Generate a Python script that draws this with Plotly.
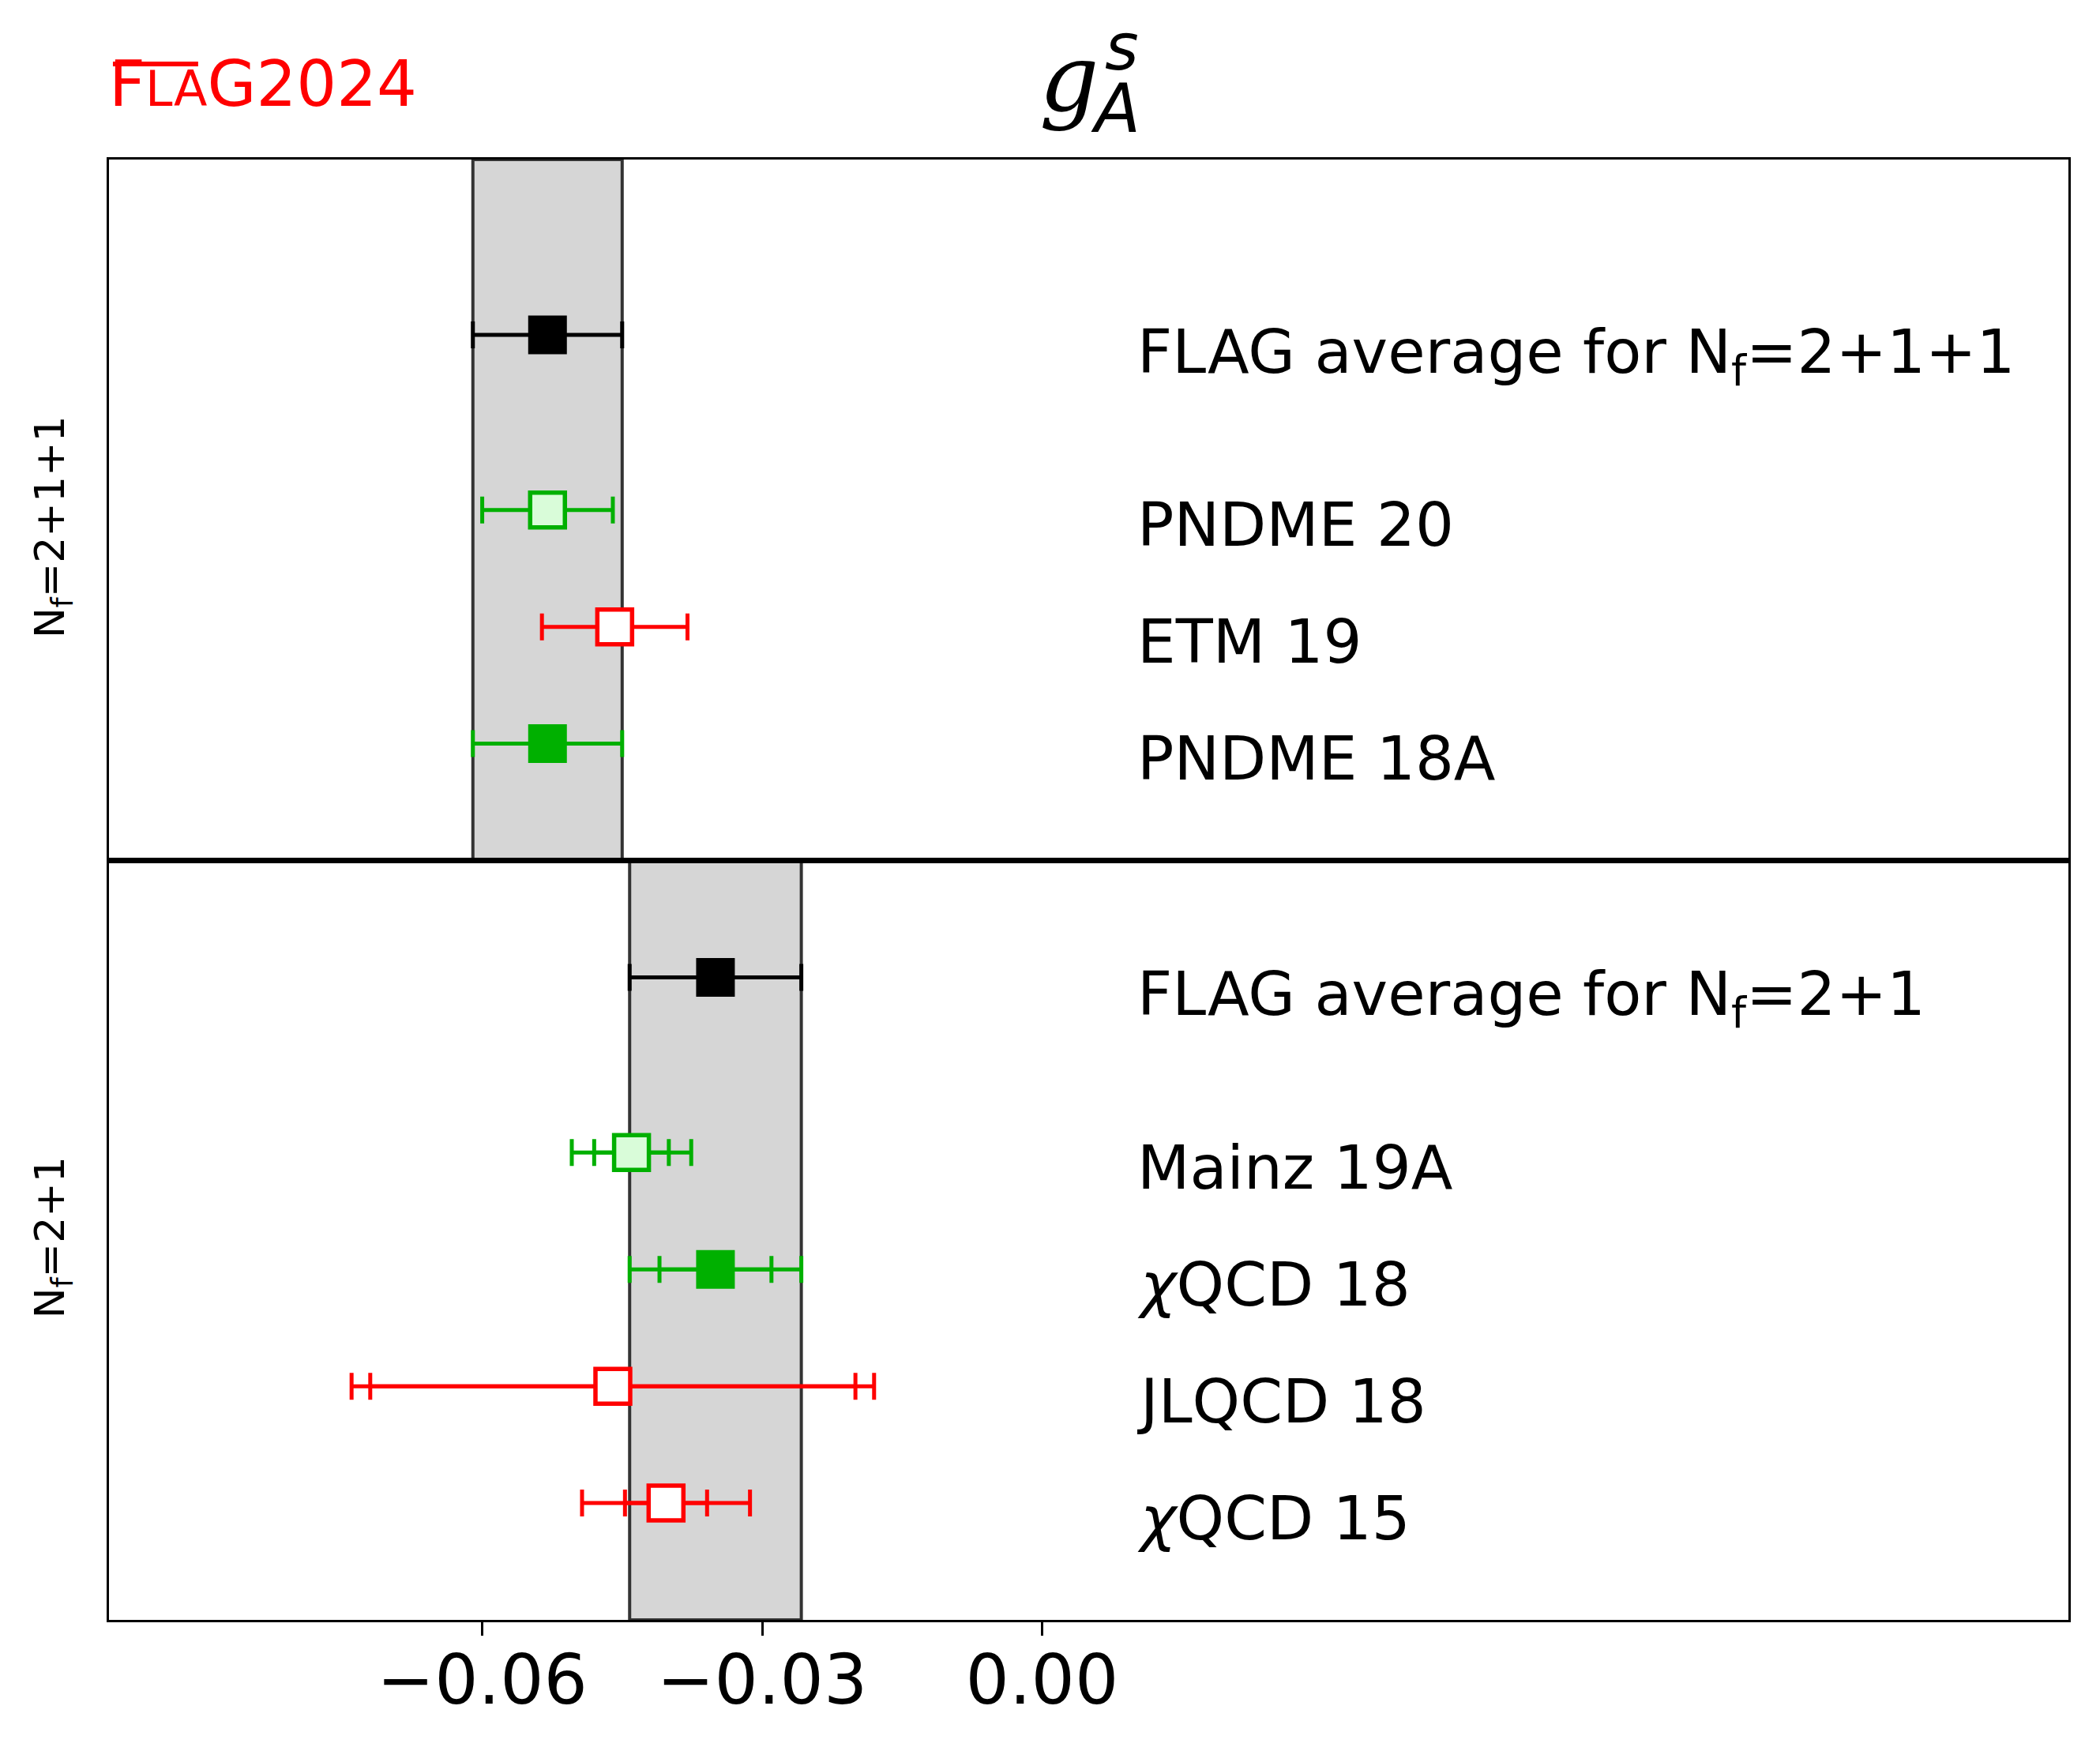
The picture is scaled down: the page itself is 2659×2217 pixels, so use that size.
import plotly.graph_objects as go
from plotly.subplots import make_subplots

# ---------------- data ----------------
x_range = [-0.1, 0.11]
x_ticks = [-0.06, -0.03, 0.0]

top_labels = ["FLAG average for N<sub>f</sub>=2+1+1", "PNDME 20", "ETM 19", "PNDME 18A"]
top_rows = [4.5, 3, 2, 1]
top_values = [-0.053, -0.053, -0.0458, -0.053]
top_total = [0.008, 0.007, 0.0078, 0.008]
top_stat = [None, None, None, None]
top_kind = ["avg", "green_light", "red_open", "green_fill"]
top_ylim = [0, 6]
top_group = "N<sub>f</sub>=2+1+1"

bot_labels = ["FLAG average for N<sub>f</sub>=2+1", "Mainz 19A", "<i>χ</i>QCD 18", "JLQCD 18", "<i>χ</i>QCD 15"]
bot_rows = [5.5, 4, 3, 2, 1]
bot_values = [-0.035, -0.044, -0.035, -0.046, -0.0403]
bot_total = [0.0092, 0.0064, 0.0092, 0.028, 0.009]
bot_stat = [None, 0.004, 0.006, 0.026, 0.0044]
bot_kind = ["avg", "green_light", "green_fill", "red_open", "red_open"]
bot_ylim = [0, 6.5]
bot_group = "N<sub>f</sub>=2+1"

# ---------------- styles ----------------
FONT = "DejaVu Sans"
GFONT = "DejaVu Serif"
TFONT = "DejaVu Sans"
GREEN = "#00b000"
RED = "#ff0000"
styles = {
    "avg": dict(fill="black", edge="black", size=49, lw=0),
    "green_fill": dict(fill=GREEN, edge=GREEN, size=49, lw=0),
    "green_light": dict(fill="#d9fcd9", edge=GREEN, size=44, lw=5.5),
    "red_open": dict(fill="white", edge=RED, size=44, lw=5.5),
}
EB_THICK = 5
EB_CAP = 17
LABEL_SIZE = 77

# the page body has an 8px margin: compensate so the plot area lands where intended
BODY = 8
W, H = 2659 - BODY, 2217 - BODY
ML, MR, MT, MB = 138 - BODY, 40, 202 - BODY, 166

fig = make_subplots(rows=2, cols=1, shared_xaxes=True, vertical_spacing=0,
                    row_heights=[top_ylim[1] - top_ylim[0], bot_ylim[1] - bot_ylim[0]])

panels = [
    (1, top_labels, top_rows, top_values, top_total, top_stat, top_kind, top_ylim, "x", "y"),
    (2, bot_labels, bot_rows, bot_values, bot_total, bot_stat, bot_kind, bot_ylim, "x2", "y2"),
]

for (r, labels, rows, vals, tot, stat, kinds, ylim, xr, yr) in panels:
    avg_i = kinds.index("avg")
    fig.add_shape(type="rect", xref=xr, yref=yr + " domain",
                  x0=vals[avg_i] - tot[avg_i], x1=vals[avg_i] + tot[avg_i], y0=0, y1=1,
                  fillcolor="#d6d6d6", line=dict(color="#333333", width=4), layer="below")
    for lab, yv, v, t, s, k in zip(labels, rows, vals, tot, stat, kinds):
        st = styles[k]
        if s is not None:
            fig.add_trace(go.Scatter(
                x=[v], y=[yv], mode="markers",
                marker=dict(size=2, opacity=0),
                error_x=dict(type="data", array=[s], color=st["edge"], thickness=EB_THICK, width=EB_CAP),
                showlegend=False, hoverinfo="skip"), row=r, col=1)
    for lab, yv, v, t, s, k in zip(labels, rows, vals, tot, stat, kinds):
        st = styles[k]
        fig.add_trace(go.Scatter(
            x=[v], y=[yv], mode="markers",
            marker=dict(symbol="square", size=st["size"], color=st["fill"],
                        line=dict(color=st["edge"], width=st["lw"])),
            error_x=dict(type="data", array=[t], color=st["edge"], thickness=EB_THICK, width=EB_CAP),
            showlegend=False, name=lab), row=r, col=1)
        shift = -27 if "<sub>" in lab else -19
        fig.add_annotation(x=0.01, y=yv, xref=xr, yref=yr, text=lab, showarrow=False,
                           xanchor="left", yanchor="middle", yshift=shift,
                           font=dict(family=FONT, size=LABEL_SIZE, color="black"))

fig.update_yaxes(showticklabels=False, ticks="", showgrid=False, zeroline=False,
                 showline=True, mirror=True, linecolor="black", linewidth=3)
fig.update_yaxes(range=top_ylim, row=1, col=1)
fig.update_yaxes(range=bot_ylim, row=2, col=1)
fig.update_xaxes(range=x_range, showgrid=False, zeroline=False, showline=True, mirror=True,
                 linecolor="black", linewidth=3)
fig.update_xaxes(showticklabels=False, ticks="", row=1, col=1)
fig.update_xaxes(tickvals=x_ticks, tickformat=".2f", ticks="outside", ticklen=17, tickwidth=3,
                 ticklabelstandoff=-18,
                 tickcolor="black", tickfont=dict(family=FONT, size=87, color="black"), row=2, col=1)

split = (bot_ylim[1] - bot_ylim[0]) / ((top_ylim[1] - top_ylim[0]) + (bot_ylim[1] - bot_ylim[0]))
fig.add_shape(type="line", xref="paper", yref="paper", x0=0, x1=1, y0=split, y1=split,
              line=dict(color="black", width=7), layer="above")

# group labels (rotated)
fig.add_annotation(xref="paper", yref="paper", x=-0.0286, y=0.7485, text=top_group, textangle=-90,
                   showarrow=False, xanchor="center", yanchor="middle",
                   font=dict(family=FONT, size=52, color="black"))
fig.add_annotation(xref="paper", yref="paper", x=-0.0286, y=0.2617, text=bot_group, textangle=-90,
                   showarrow=False, xanchor="center", yanchor="middle",
                   font=dict(family=FONT, size=52, color="black"))

# title g_A^s
fig.add_annotation(xref="paper", yref="paper", x=0.4901, y=1.0557, text="<i>g</i>", showarrow=False,
                   xanchor="center", yanchor="middle", font=dict(family=GFONT, size=118, color="black"))
fig.add_annotation(xref="paper", yref="paper", x=0.5139, y=1.0348, text="<i>A</i>", showarrow=False,
                   xanchor="center", yanchor="middle", font=dict(family=TFONT, size=85, color="black"))
fig.add_annotation(xref="paper", yref="paper", x=0.5171, y=1.0770, text="<i>s</i>", showarrow=False,
                   xanchor="center", yanchor="middle", font=dict(family=TFONT, size=82, color="black"))

# FLAG2024 logo
fig.add_annotation(xref="paper", yref="paper", x=-0.001, y=1.0514,
                   text="F<span style='font-size:62px'>LA</span>G2024", showarrow=False,
                   xanchor="left", yanchor="middle", font=dict(family=FONT, size=80, color=RED))
fig.add_shape(type="line", xref="paper", yref="paper", x0=0.002, x1=0.0455, y0=1.0655, y1=1.0655,
              line=dict(color=RED, width=6))

fig.update_layout(width=W, height=H, autosize=False,
                  margin=dict(l=ML, r=MR, t=MT, b=MB),
                  plot_bgcolor="white", paper_bgcolor="white", showlegend=False)

fig.write_html("out.html")
